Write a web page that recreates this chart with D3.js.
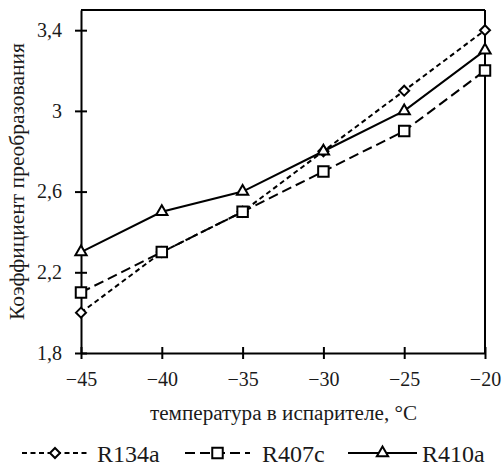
<!DOCTYPE html>
<html><head><meta charset="utf-8">
<script src="https://cdn.jsdelivr.net/npm/d3@7"></script>
<style>body{margin:0;background:#fff}svg{display:block}
text{font-family:"Liberation Serif","Times New Roman","DejaVu Serif",serif}</style>
</head><body>
<svg id="c" width="503" height="466"></svg>
<script>
const temps = [-45, -40, -35, -30, -25, -20];
const r134a = [2.0, 2.3, 2.5, 2.8, 3.1, 3.4];
const r407c = [2.1, 2.3, 2.5, 2.7, 2.9, 3.2];
const r410a = [2.3, 2.5, 2.6, 2.8, 3.0, 3.3];
const yTicks = [1.8, 2.2, 2.6, 3, 3.4];
const xTicks = [-45, -40, -35, -30, -25, -20];
const seriesNames = ["R134a", "R407c", "R410a"];

const svg = d3.select("#c");
const font = '"Liberation Serif","Times New Roman","DejaVu Serif",serif';
const ink = "#1a1a1a";
const L = 81, R = 485, T = 10, B = 353;
const x = d3.scaleLinear().domain([-45, -20]).range([L, R]);
const y = d3.scaleLinear().domain([1.8, 3.5]).range([B, T]);
const fmt = v => String(v).replace(".", ",").replace("-", "\u2212");

// frame
svg.append("line").attr("x1", L).attr("x2", R).attr("y1", T).attr("y2", T).attr("stroke", "#000").attr("stroke-width", 2);
svg.append("line").attr("x1", R).attr("x2", R).attr("y1", T).attr("y2", B).attr("stroke", "#000").attr("stroke-width", 2);

const yAxis = svg.append("g").attr("transform", `translate(${L},0)`)
  .call(d3.axisLeft(y).tickValues(yTicks).tickSize(0).tickPadding(19).tickFormat(fmt));
yAxis.attr("font-family", null).attr("font-size", null);
yAxis.select(".domain").attr("stroke-width", 2);
yAxis.selectAll(".tick").append("line").attr("x1", -6).attr("x2", 6).attr("stroke", "#000").attr("stroke-width", 2);
yAxis.selectAll("text").style("font-family", font).style("font-size", "20px").attr("fill", ink);

const xAxis = svg.append("g").attr("transform", `translate(0,${B})`)
  .call(d3.axisBottom(x).tickValues(xTicks).tickSize(0).tickPadding(19).tickFormat(fmt));
xAxis.attr("font-family", null).attr("font-size", null);
xAxis.select(".domain").attr("stroke-width", 2);
xAxis.selectAll(".tick").append("line").attr("y1", -6).attr("y2", 6).attr("stroke", "#000").attr("stroke-width", 2);
xAxis.selectAll("text").style("font-family", font).style("font-size", "20px").attr("fill", ink);

svg.append("text").attr("x", 283.5).attr("y", 420).attr("text-anchor", "middle")
  .style("font-family", font).style("font-size", "20px").attr("fill", ink)
  .attr("textLength", 267).attr("lengthAdjust", "spacingAndGlyphs")
  .text("температура в испарителе, °С");
svg.append("text").attr("transform", "translate(24,181.5) rotate(-90)").attr("text-anchor", "middle")
  .style("font-family", font).style("font-size", "20px").attr("fill", ink)
  .attr("textLength", 277).attr("lengthAdjust", "spacingAndGlyphs")
  .text("Коэффициент преобразования");

const diamond = {draw(ctx, size) { const r = Math.sqrt(size) / 2 * Math.SQRT2; ctx.moveTo(0, -r); ctx.lineTo(r, 0); ctx.lineTo(0, r); ctx.lineTo(-r, 0); ctx.closePath(); }};
const styles = [
  {vals: r134a, dash: "5,3.5", sym: diamond, size: 50},
  {vals: r407c, dash: "10,5", sym: d3.symbolSquare, size: 110},
  {vals: r410a, dash: null, sym: d3.symbolTriangle, size: 55}
];
const line = d3.line().x((d, i) => x(temps[i])).y(d => y(d));
styles.forEach(s => {
  svg.append("path").datum(s.vals).attr("d", line).attr("fill", "none")
    .attr("stroke", "#000").attr("stroke-width", 2).attr("stroke-dasharray", s.dash);
  svg.selectAll(null).data(s.vals).enter().append("path")
    .attr("d", d3.symbol().type(s.sym).size(s.size))
    .attr("transform", (d, i) => `translate(${x(temps[i])},${y(d)})`)
    .attr("fill", "#fff").attr("stroke", "#000").attr("stroke-width", 2);
});

// legend
const lx = [22, 185, 348];
const lw = [66, 65, 69];
const tx = [97, 262, 422];
styles.forEach((s, k) => {
  const g = svg.append("g").attr("transform", `translate(${lx[k]},453)`);
  g.append("line").attr("x1", 0).attr("x2", lw[k]).attr("y1", 0).attr("y2", 0)
    .attr("stroke", "#000").attr("stroke-width", 2).attr("stroke-dasharray", s.dash);
  g.append("path").attr("d", d3.symbol().type(s.sym).size(s.size))
    .attr("transform", `translate(${lw[k] / 2},0)`).attr("fill", "#fff").attr("stroke", "#000").attr("stroke-width", 2);
  svg.append("text").attr("x", tx[k]).attr("y", 462).style("font-family", font).style("font-size", "24px").attr("fill", ink)
    .text(seriesNames[k]);
});
</script>
</body></html>
